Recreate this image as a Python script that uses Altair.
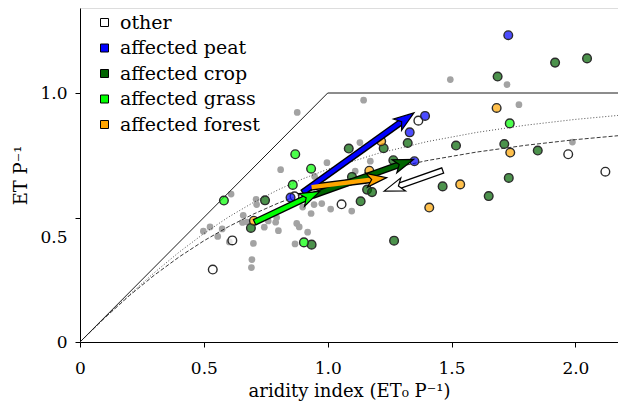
import math
import altair as alt
import pandas as pd

# ---------------- data ----------------
cats = ["other", "affected peat", "affected crop", "affected grass", "affected forest"]
cat_colors = ["#ffffff", "#0000ff", "#006400", "#00ff00", "#ffa500"]

other_x = [1.056, 1.366, 1.971, 2.121, 0.615, 0.536, 0.866]
other_y = [0.553, 0.889, 0.754, 0.684, 0.408, 0.291, 0.585]

peat_x = [1.729, 1.393, 1.331, 1.350, 0.850]
peat_y = [1.232, 0.908, 0.842, 0.726, 0.580]

crop_x = [1.918, 2.047, 1.686, 1.518, 1.713, 1.848, 1.731, 1.464, 1.650, 1.159, 1.179,
          1.133, 1.268, 1.323, 1.226, 1.085, 1.265, 1.098, 0.747, 0.690, 0.935]
crop_y = [1.122, 1.139, 1.066, 0.789, 0.795, 0.769, 0.659, 0.625, 0.586, 0.612, 0.602,
          0.565, 0.407, 0.799, 0.778, 0.777, 0.730, 0.663, 0.569, 0.458, 0.391]

grass_x = [1.735, 0.869, 0.933, 0.859, 0.581, 0.904]
grass_y = [0.878, 0.754, 0.696, 0.631, 0.568, 0.400]

forest_x = [1.682, 1.737, 1.535, 1.410, 1.216, 1.168, 0.702]
forest_y = [0.940, 0.761, 0.633, 0.540, 0.806, 0.688, 0.487]

gray_x = [1.495, 1.724, 1.772, 1.988, 1.145, 0.877, 1.130, 1.172, 1.111, 1.097, 0.810,
          0.997, 0.947, 0.711, 0.713, 0.899, 0.945, 0.976, 1.012, 0.933, 0.659, 0.656,
          0.675, 0.744, 0.760, 0.790, 0.794, 0.801, 0.875, 0.885, 0.919, 0.868, 0.700,
          0.694, 0.692, 0.610, 0.498, 0.525, 0.556, 0.574, 0.603]
gray_y = [1.054, 1.034, 0.953, 0.803, 0.971, 0.922, 0.801, 0.726, 0.686, 0.526, 0.692,
          0.720, 0.665, 0.573, 0.552, 0.542, 0.552, 0.556, 0.534, 0.516, 0.509, 0.480,
          0.482, 0.461, 0.486, 0.481, 0.500, 0.447, 0.476, 0.462, 0.441, 0.394, 0.396,
          0.331, 0.299, 0.594, 0.445, 0.462, 0.424, 0.454, 0.402]

# energy / water limit
limit_x = [0.0, 1.0, 2.2]
limit_y = [0.0, 1.0, 1.0]

# upper (dotted) curve
curve1_x = [0.0, 0.1, 0.2, 0.3, 0.4, 0.5, 0.6, 0.7, 0.8, 0.9, 1.0, 1.2, 1.4, 1.6, 1.8, 2.0, 2.2]
curve1_y = [0.0, 0.0976, 0.1904, 0.2785, 0.3607, 0.4355, 0.5021, 0.5605, 0.6113, 0.6555,
            0.6938, 0.7564, 0.8044, 0.8415, 0.8708, 0.8940, 0.9125]

# lower (dashed) curve
curve2_x = [0.0, 0.1, 0.2, 0.3, 0.4, 0.5, 0.6, 0.7, 0.8, 0.9, 1.0, 1.2, 1.4, 1.6, 1.8, 2.0, 2.2]
curve2_y = [0.0, 0.0971, 0.1869, 0.2684, 0.3415, 0.4064, 0.4635, 0.5137, 0.5576, 0.5960,
            0.6297, 0.6852, 0.7284, 0.7626, 0.7901, 0.8127, 0.8310]

# arrows: start -> end
arrow_x1 = [0.901, 0.942, 0.935, 0.707, 1.462]
arrow_y1 = [0.602, 0.589, 0.622, 0.482, 0.688]
arrow_x2 = [1.348, 1.346, 1.238, 0.968, 1.228]
arrow_y2 = [0.920, 0.733, 0.660, 0.605, 0.606]
arrow_col = ["#0000ff", "#006400", "#ffa500", "#00ff00", "#ffffff"]

# ---------------- layout ----------------
W, H = 538, 334
PX_X = 247.7
PX_Y = 249.0
X_MAX = W / PX_X
Y_MAX = H / PX_Y
FONT = "DejaVu Serif"
FS_TICK = 17
FS_TITLE = 18
FS_LEG = 19

HEAD_SIZE = 500
HEAD_S = math.sqrt(HEAD_SIZE) / 2.0
HEAD_PATH = "M0,0 L0.62,1.8 L0,1.35 L-0.62,1.8 Z"

rows = []
for x1, y1, x2, y2, c in zip(arrow_x1, arrow_y1, arrow_x2, arrow_y2, arrow_col):
    dx = (x2 - x1) * PX_X
    dy = (y2 - y1) * PX_Y
    L = math.hypot(dx, dy)
    ux, uy = dx / L, dy / L
    back = 1.25 * HEAD_S
    xe = x2 - ux * back / PX_X
    ye = y2 - uy * back / PX_Y
    xt = x1 - ux * 1.2 / PX_X
    yt = y1 - uy * 1.2 / PX_Y
    ang = math.degrees(math.atan2(dx, dy)) % 360
    rows.append(dict(x1=x1, y1=y1, x2=x2, y2=y2, xe=xe, ye=ye, xt=xt, yt=yt, col=c, angle=ang))
arrows = pd.DataFrame(rows)

pts = pd.concat([
    pd.DataFrame({"x": other_x, "y": other_y, "cat": "other"}),
    pd.DataFrame({"x": peat_x, "y": peat_y, "cat": "affected peat"}),
    pd.DataFrame({"x": crop_x, "y": crop_y, "cat": "affected crop"}),
    pd.DataFrame({"x": grass_x, "y": grass_y, "cat": "affected grass"}),
    pd.DataFrame({"x": forest_x, "y": forest_y, "cat": "affected forest"}),
], ignore_index=True)
gray = pd.DataFrame({"x": gray_x, "y": gray_y})
limit = pd.DataFrame({"x": limit_x, "y": limit_y})
c1 = pd.DataFrame({"x": curve1_x, "y": curve1_y})
c2 = pd.DataFrame({"x": curve2_x, "y": curve2_y})

xs = alt.Scale(domain=[0, X_MAX], nice=False, zero=False)
ys = alt.Scale(domain=[0, Y_MAX], nice=False, zero=False)

xaxis = alt.Axis(
    values=[0, 0.5, 1.0, 1.5, 2.0],
    labelExpr="datum.value == 0 ? '0' : format(datum.value, '.1f')",
    title="aridity index (ET₀ P⁻¹)",
    grid=False, tickSize=5, tickColor="black", domainColor="black",
    labelFont=FONT, labelFontSize=FS_TICK, labelColor="black", labelPadding=13,
    labelFlush=False,
    titleFont=FONT, titleFontSize=FS_TITLE, titleFontWeight="normal", titleColor="black",
    titlePadding=6,
)
yaxis = alt.Axis(
    values=[0, 0.5, 1.0],
    labelExpr="datum.value == 0 ? '0' : format(datum.value, '.1f')",
    labelOffset=alt.condition("datum.value == 0.5", alt.value(20), alt.value(0)),
    title="ET P⁻¹",
    grid=False, tickSize=5, tickColor="black", domainColor="black",
    labelFont=FONT, labelFontSize=FS_TICK, labelColor="black", labelPadding=8,
    labelFlush=False,
    titleFont=FONT, titleFontSize=FS_TITLE, titleFontWeight="normal", titleColor="black",
    titlePadding=9,
)

X = lambda f="x": alt.X(f"{f}:Q", scale=xs, axis=xaxis)
Y = lambda f="y": alt.Y(f"{f}:Q", scale=ys, axis=yaxis)

gray_layer = alt.Chart(gray).mark_circle(size=45, color="#a3a3a3", opacity=1).encode(x=X(), y=Y())

limit_layer = alt.Chart(limit).mark_line(color="black", strokeWidth=0.9, clip=True).encode(x=X(), y=Y())
c1_layer = alt.Chart(c1).mark_line(color="#222222", strokeWidth=0.8, strokeDash=[1, 2], clip=True).encode(x=X(), y=Y())
c2_layer = alt.Chart(c2).mark_line(color="#222222", strokeWidth=0.9, strokeDash=[4, 2], clip=True).encode(x=X(), y=Y())

pts_layer = alt.Chart(pts).mark_circle(
    size=75, stroke="#2b2b2b", strokeWidth=1.4, fillOpacity=0.7, opacity=1
).encode(
    x=X(), y=Y(),
    fill=alt.Fill("cat:N", scale=alt.Scale(domain=cats, range=cat_colors),
                  legend=alt.Legend(
                      title=None, orient="none", legendX=15, legendY=5,
                      symbolType="square", symbolSize=64, symbolStrokeColor="black",
                      symbolStrokeWidth=1, symbolOpacity=1,
                      labelFont=FONT, labelFontSize=FS_LEG, labelColor="black",
                      labelOffset=6, rowPadding=5.5, padding=0,
                  )),
)

shaft_black = alt.Chart(arrows).mark_rule(color="black", strokeWidth=7, strokeCap="butt").encode(
    x=alt.X("xt:Q", scale=xs, axis=xaxis), y=alt.Y("yt:Q", scale=ys, axis=yaxis),
    x2="xe:Q", y2="ye:Q")
shaft_col = alt.Chart(arrows).mark_rule(strokeWidth=4.2, strokeCap="butt").encode(
    x=alt.X("x1:Q", scale=xs, axis=xaxis), y=alt.Y("y1:Q", scale=ys, axis=yaxis),
    x2="xe:Q", y2="ye:Q", color=alt.Color("col:N", scale=None))
heads = alt.Chart(arrows).mark_point(
    shape=HEAD_PATH, filled=True, size=HEAD_SIZE, stroke="black", strokeWidth=1.2, opacity=1
).encode(
    x=alt.X("x2:Q", scale=xs, axis=xaxis), y=alt.Y("y2:Q", scale=ys, axis=yaxis),
    fill=alt.Fill("col:N", scale=None), angle=alt.Angle("angle:Q", scale=None))

chart = alt.layer(
    gray_layer, limit_layer, c1_layer, c2_layer, pts_layer, shaft_black, shaft_col, heads
).properties(
    width=W, height=H,
    autosize=alt.AutoSizeParams(type="none"),
    padding={"left": 72, "top": 0, "right": 0, "bottom": 60},
).configure_view(stroke="black", strokeWidth=1.2).configure(background="white")

chart.save("out.html", embed_options={"renderer": "svg", "actions": False})
